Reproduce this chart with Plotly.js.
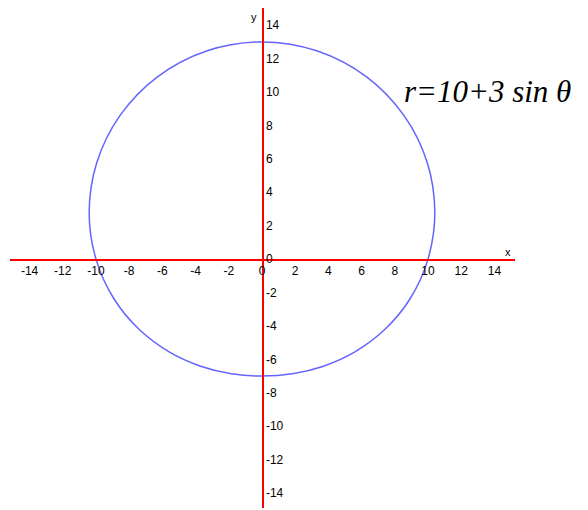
<!DOCTYPE html>
<html>
<head>
<meta charset="utf-8">
<script src="https://cdn.plot.ly/plotly-3.0.1.min.js"></script>
<style>html,body{margin:0;padding:0;background:#fff;}#chart{width:588px;height:510px;}</style>
</head>
<body>
<div id="chart"></div>
<script>
// Points of the curve r = 10 + 3 sin(theta) (every 15 degrees)
const curveX = [10, 10.41, 9.96, 8.57, 6.30, 3.34, 0, -3.34, -6.30, -8.57, -9.96, -10.41, -10,
                -8.91, -7.36, -5.57, -3.70, -1.84, 0, 1.84, 3.70, 5.57, 7.36, 8.91, 10];
const curveY = [0, 2.79, 5.75, 8.57, 10.91, 12.46, 13, 12.46, 10.91, 8.57, 5.75, 2.79, 0,
                -2.39, -4.25, -5.57, -6.41, -6.86, -7, -6.86, -6.41, -5.57, -4.25, -2.39, 0];
const tickVals = [-14, -12, -10, -8, -6, -4, -2, 0, 2, 4, 6, 8, 10, 12, 14];
const tickText = ["-14", "-12", "-10", "-8", "-6", "-4", "-2", "0", "2", "4", "6", "8", "10", "12", "14"];
const equationLabel = "r=10+3 sin θ";

const xRange = [-15.18, 15.24];
const yRange = [-14.9, 15.03];

const tickFont = {family: "Liberation Sans, Arial, sans-serif", size: 12, color: "#000"};

const data = [{
  x: curveX, y: curveY, type: "scatter", mode: "lines",
  line: {color: "#6464ff", width: 1.5, shape: "spline", smoothing: 1},
  hoverinfo: "skip"
}];

const layout = {
  width: 588, height: 510,
  margin: {l: 10, r: 73, t: 8, b: 2, pad: 0},
  paper_bgcolor: "#fff", plot_bgcolor: "#fff",
  showlegend: false,
  xaxis: {
    range: xRange, anchor: "free",
    position: (0 - yRange[0]) / (yRange[1] - yRange[0]),
    showgrid: false, zeroline: false,
    showline: true, linecolor: "#ff0000", linewidth: 1.5,
    tickmode: "array", tickvals: tickVals, ticktext: tickText,
    ticks: "", tickfont: tickFont, fixedrange: true
  },
  yaxis: {
    range: yRange, anchor: "free", side: "right",
    position: (0 - xRange[0]) / (xRange[1] - xRange[0]),
    showgrid: false, zeroline: false,
    showline: true, linecolor: "#ff0000", linewidth: 1.5,
    tickmode: "array", tickvals: tickVals, ticktext: tickText,
    ticks: "", tickfont: tickFont, fixedrange: true
  },
  annotations: [
    {x: 13.6, y: 10.05, xref: "x", yref: "y", text: equationLabel, showarrow: false,
     xanchor: "center", yanchor: "middle",
     font: {family: "Liberation Serif, Times New Roman, serif", size: 31, color: "#000", style: "italic"}},
    {x: 14.8, y: 0.45, xref: "x", yref: "y", text: "x", showarrow: false,
     xanchor: "center", yanchor: "middle", font: {family: "Liberation Sans, Arial, sans-serif", size: 11, color: "#000"}},
    {x: -0.5, y: 14.5, xref: "x", yref: "y", text: "y", showarrow: false,
     xanchor: "center", yanchor: "middle", font: {family: "Liberation Sans, Arial, sans-serif", size: 11, color: "#000"}}
  ]
};

Plotly.newPlot("chart", data, layout, {displayModeBar: false, staticPlot: true});
</script>
</body>
</html>
